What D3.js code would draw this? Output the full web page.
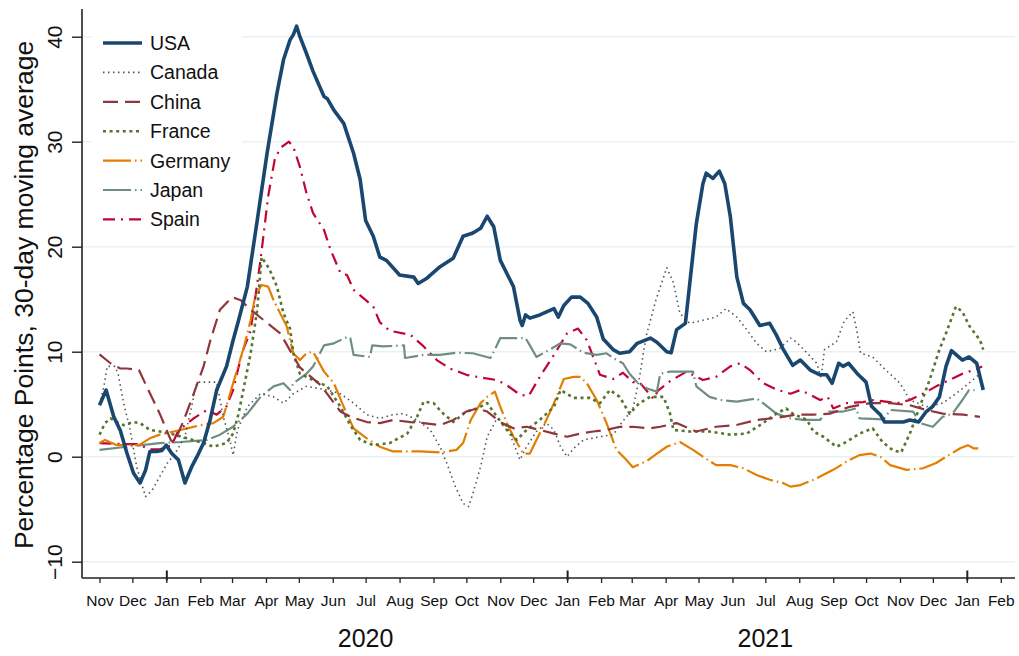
<!DOCTYPE html>
<html>
<head>
<meta charset="utf-8">
<script src="https://cdn.jsdelivr.net/npm/d3@7"></script>
<style>
  body { margin: 0; background: #fff; }
  svg { font-family: "Liberation Sans", Arial, sans-serif; }
</style>
</head>
<body>
<svg id="chart" width="1019" height="656"></svg>
<script>
// 30-day moving average, percentage points
const usa = [
  ['2019-11-01', 4.9], ['2019-11-07', 6.35], ['2019-11-14', 3.8], ['2019-11-20', 2.5], ['2019-11-26', 0.35],
  ['2019-12-02', -1.55], ['2019-12-08', -2.5], ['2019-12-13', -1.3], ['2019-12-17', 0.5], ['2019-12-23', 0.5],
  ['2019-12-28', 0.6], ['2020-01-01', 1.1], ['2020-01-06', 0.3], ['2020-01-12', -0.3], ['2020-01-18', -2.5],
  ['2020-01-24', -1.0], ['2020-01-29', 0], ['2020-02-04', 1.3], ['2020-02-10', 3.5], ['2020-02-16', 6.35],
  ['2020-02-25', 8.6], ['2020-03-02', 11.1], ['2020-03-07', 13], ['2020-03-15', 16.2], ['2020-03-24', 22.5],
  ['2020-04-02', 28.9], ['2020-04-11', 34.6], ['2020-04-17', 37.8], ['2020-04-23', 39.7], ['2020-04-26', 40.2],
  ['2020-04-29', 41.0], ['2020-05-02', 40.0], ['2020-05-08', 38.4], ['2020-05-14', 36.7], ['2020-05-24', 34.3],
  ['2020-05-27', 34.1], ['2020-06-02', 33.0], ['2020-06-11', 31.75], ['2020-06-20', 28.9], ['2020-06-26', 26.4],
  ['2020-07-01', 22.5], ['2020-07-08', 21.0], ['2020-07-14', 19.0], ['2020-07-20', 18.7], ['2020-08-01', 17.3],
  ['2020-08-14', 17.1], ['2020-08-18', 16.5], ['2020-08-26', 17.0], ['2020-09-07', 18.1], ['2020-09-19', 18.9],
  ['2020-09-28', 21.0], ['2020-10-07', 21.3], ['2020-10-14', 21.75], ['2020-10-20', 22.9], ['2020-10-26', 21.9],
  ['2020-11-01', 18.7], ['2020-11-13', 16.2], ['2020-11-19', 13.0], ['2020-11-21', 12.5], ['2020-11-24', 13.5],
  ['2020-11-28', 13.2], ['2020-12-07', 13.5], ['2020-12-20', 14.1], ['2020-12-24', 13.3], ['2020-12-29', 14.4],
  ['2021-01-05', 15.2], ['2021-01-13', 15.2], ['2021-01-20', 14.6], ['2021-01-28', 13.3], ['2021-02-03', 11.2],
  ['2021-02-12', 10.2], ['2021-02-18', 9.85], ['2021-02-27', 10.0], ['2021-03-06', 10.8], ['2021-03-18', 11.3],
  ['2021-03-24', 10.9], ['2021-04-02', 10.0], ['2021-04-06', 9.9], ['2021-04-11', 12.1], ['2021-04-19', 12.7],
  ['2021-04-23', 16.5], ['2021-04-29', 22.2], ['2021-05-05', 26.0], ['2021-05-08', 27.0], ['2021-05-14', 26.5],
  ['2021-05-20', 27.2], ['2021-05-25', 26.0], ['2021-05-30', 22.9], ['2021-06-05', 17.1], ['2021-06-11', 14.6],
  ['2021-06-17', 14.0], ['2021-06-26', 12.5], ['2021-07-05', 12.7], ['2021-07-11', 11.6], ['2021-07-17', 10.3],
  ['2021-07-26', 8.7], ['2021-08-02', 9.2], ['2021-08-11', 8.25], ['2021-08-20', 7.8], ['2021-08-26', 7.8],
  ['2021-08-31', 7.0], ['2021-09-06', 8.9], ['2021-09-10', 8.6], ['2021-09-15', 8.9], ['2021-09-24', 7.8],
  ['2021-10-01', 7.1], ['2021-10-06', 4.8], ['2021-10-14', 4.0], ['2021-10-18', 3.3], ['2021-11-04', 3.3],
  ['2021-11-10', 3.5], ['2021-11-18', 3.3], ['2021-11-25', 4.3], ['2021-12-01', 4.8], ['2021-12-07', 5.7],
  ['2021-12-13', 8.6], ['2021-12-18', 10.1], ['2021-12-28', 9.2], ['2022-01-03', 9.5], ['2022-01-10', 8.9],
  ['2022-01-16', 6.35]
];

const canada = [
  ['2019-11-01', 5.0], ['2019-11-05', 6.7], ['2019-11-08', 8.6], ['2019-11-15', 8.6], ['2019-11-18', 7.9],
  ['2019-11-23', 5.1], ['2019-11-29', 2.55], ['2019-12-05', -1.0], ['2019-12-13', -3.8], ['2019-12-19', -3.2],
  ['2019-12-26', -1.9], ['2020-01-02', -0.6], ['2020-01-09', 0.3], ['2020-01-18', 1.9], ['2020-01-24', 4.75],
  ['2020-01-29', 7.1], ['2020-02-16', 7.1], ['2020-02-22', 3.8], ['2020-02-28', 1.6], ['2020-03-02', 0.15],
  ['2020-03-06', 2.55], ['2020-03-15', 4.75], ['2020-03-27', 6.0], ['2020-04-08', 5.7], ['2020-04-17', 5.1],
  ['2020-04-26', 6.0], ['2020-05-08', 6.7], ['2020-05-27', 6.35], ['2020-06-08', 6.0], ['2020-06-20', 5.1],
  ['2020-07-02', 4.0], ['2020-07-14', 3.65], ['2020-07-26', 4.0], ['2020-08-05', 4.1], ['2020-08-17', 3.5],
  ['2020-08-29', 2.55], ['2020-09-07', 0.95], ['2020-09-13', -0.6], ['2020-09-21', -2.85], ['2020-09-28', -4.45],
  ['2020-10-03', -4.75], ['2020-10-07', -3.5], ['2020-10-14', -0.95], ['2020-10-20', 1.9], ['2020-10-29', 3.65],
  ['2020-11-07', 2.85], ['2020-11-13', 1.3], ['2020-11-19', -0.3], ['2020-11-25', 0.95], ['2020-12-04', 2.4],
  ['2020-12-13', 3.2], ['2020-12-20', 2.55], ['2020-12-26', 0.95], ['2021-01-01', 0], ['2021-01-07', 0.8],
  ['2021-01-16', 1.6], ['2021-01-31', 1.9], ['2021-02-12', 2.1], ['2021-02-21', 3.4], ['2021-03-02', 4.5],
  ['2021-03-08', 7.5], ['2021-03-14', 11.4], ['2021-03-23', 14.9], ['2021-04-02', 18.0], ['2021-04-08', 16.6],
  ['2021-04-14', 13.65], ['2021-04-23', 12.7], ['2021-05-05', 13.0], ['2021-05-17', 13.3], ['2021-05-26', 14.1],
  ['2021-06-05', 13.3], ['2021-06-14', 12.1], ['2021-06-23', 10.8], ['2021-07-02', 10.0], ['2021-07-14', 10.3],
  ['2021-07-24', 11.3], ['2021-07-29', 10.95], ['2021-08-07', 10.0], ['2021-08-17', 8.9], ['2021-08-21', 7.5],
  ['2021-08-24', 10.2], ['2021-09-04', 10.95], ['2021-09-11', 12.9], ['2021-09-19', 13.8], ['2021-09-23', 11.75],
  ['2021-09-26', 9.85], ['2021-10-07', 9.5], ['2021-10-19', 8.25], ['2021-11-01', 7.0], ['2021-11-10', 5.4],
  ['2021-11-25', 4.75], ['2021-12-10', 5.1], ['2021-12-22', 6.0], ['2022-01-03', 7.0], ['2022-01-13', 7.9]
];

const china = [
  ['2019-11-01', 9.75], ['2019-11-11', 8.9], ['2019-11-20', 8.4], ['2019-11-26', 8.4], ['2019-12-07', 8.25],
  ['2019-12-14', 6.7], ['2019-12-26', 4.1], ['2020-01-05', 1.6], ['2020-01-08', 1.3], ['2020-01-17', 3.5],
  ['2020-01-26', 6.0], ['2020-02-04', 8.6], ['2020-02-10', 11.0], ['2020-02-19', 14.0], ['2020-03-01', 15.2],
  ['2020-03-09', 14.9], ['2020-03-18', 14.0], ['2020-03-30', 13.0], ['2020-04-14', 11.75], ['2020-05-02', 8.5],
  ['2020-05-21', 6.8], ['2020-06-08', 4.3], ['2020-06-17', 3.8], ['2020-07-02', 3.3], ['2020-07-14', 3.2],
  ['2020-07-26', 3.5], ['2020-08-11', 3.3], ['2020-08-23', 3.2], ['2020-09-07', 3.0], ['2020-09-19', 3.5],
  ['2020-10-01', 4.3], ['2020-10-11', 4.6], ['2020-10-20', 4.3], ['2020-11-01', 3.3], ['2020-11-13', 2.7],
  ['2020-11-25', 2.85], ['2020-12-07', 2.55], ['2020-12-20', 2.2], ['2021-01-01', 1.9], ['2021-01-13', 2.2],
  ['2021-01-25', 2.4], ['2021-02-06', 2.55], ['2021-02-18', 2.85], ['2021-03-02', 2.85], ['2021-03-18', 2.7],
  ['2021-03-27', 2.85], ['2021-04-11', 3.2], ['2021-04-29', 2.4], ['2021-05-17', 2.85], ['2021-06-04', 3.0],
  ['2021-06-23', 3.5], ['2021-07-11', 3.7], ['2021-07-29', 4.0], ['2021-08-14', 4.0], ['2021-08-29', 4.1],
  ['2021-09-16', 4.75], ['2021-10-05', 5.1], ['2021-10-23', 5.1], ['2021-11-10', 4.9], ['2021-11-25', 4.45],
  ['2021-12-10', 4.1], ['2021-12-29', 4.0], ['2022-01-13', 3.8]
];

const france = [
  ['2019-11-01', 2.1], ['2019-11-06', 3.2], ['2019-11-11', 3.65], ['2019-11-17', 3.3], ['2019-11-23', 3.0],
  ['2019-12-02', 3.3], ['2019-12-08', 3.2], ['2019-12-17', 2.55], ['2019-12-26', 2.4], ['2020-01-05', 2.2],
  ['2020-01-20', 1.75], ['2020-02-04', 1.3], ['2020-02-13', 0.95], ['2020-02-25', 1.3], ['2020-03-02', 2.2],
  ['2020-03-07', 4.1], ['2020-03-12', 6.7], ['2020-03-18', 9.85], ['2020-03-24', 14.0], ['2020-03-28', 19.0],
  ['2020-04-04', 17.9], ['2020-04-11', 16.2], ['2020-04-17', 13.65], ['2020-04-23', 12.2], ['2020-04-26', 9.85],
  ['2020-05-02', 7.9], ['2020-05-14', 7.3], ['2020-05-27', 6.7], ['2020-06-08', 4.75], ['2020-06-17', 3.0],
  ['2020-06-26', 1.6], ['2020-07-08', 1.1], ['2020-07-23', 1.3], ['2020-08-08', 2.2], ['2020-08-17', 3.8],
  ['2020-08-23', 5.25], ['2020-09-01', 5.1], ['2020-09-10', 4.1], ['2020-09-19', 3.3], ['2020-10-01', 4.3],
  ['2020-10-11', 4.6], ['2020-10-20', 5.1], ['2020-10-29', 3.8], ['2020-11-07', 2.55], ['2020-11-16', 1.6],
  ['2020-11-25', 2.55], ['2020-12-07', 3.5], ['2020-12-20', 4.75], ['2020-12-26', 6.35], ['2021-01-07', 5.6],
  ['2021-01-22', 5.6], ['2021-01-31', 5.1], ['2021-02-09', 6.35], ['2021-02-18', 5.7], ['2021-02-27', 4.1],
  ['2021-03-08', 5.1], ['2021-03-18', 5.7], ['2021-03-30', 5.7], ['2021-04-05', 4.1], ['2021-04-08', 2.55],
  ['2021-04-23', 2.4], ['2021-05-11', 2.4], ['2021-05-30', 2.1], ['2021-06-14', 2.2], ['2021-06-29', 3.2],
  ['2021-07-11', 4.1], ['2021-07-20', 4.6], ['2021-07-26', 4.1], ['2021-08-08', 3.5], ['2021-08-14', 2.4],
  ['2021-08-23', 1.9], ['2021-09-04', 0.95], ['2021-09-13', 1.4], ['2021-09-25', 2.2], ['2021-10-07', 2.7],
  ['2021-10-16', 1.4], ['2021-10-25', 0.65], ['2021-11-02', 0.4], ['2021-11-10', 2.2], ['2021-11-19', 4.75],
  ['2021-11-28', 7.3], ['2021-12-07', 10.2], ['2021-12-13', 11.75], ['2021-12-22', 14.3], ['2021-12-28', 13.8],
  ['2022-01-03', 12.5], ['2022-01-13', 11.1], ['2022-01-16', 10.2]
];

const germany = [
  ['2019-11-01', 1.3], ['2019-11-06', 1.6], ['2019-11-17', 1.1], ['2019-12-07', 1.1], ['2019-12-17', 1.75],
  ['2019-12-26', 2.1], ['2020-01-08', 2.4], ['2020-01-20', 2.7], ['2020-02-01', 3.0], ['2020-02-13', 3.2],
  ['2020-02-22', 3.8], ['2020-03-02', 7.0], ['2020-03-12', 10.5], ['2020-03-18', 13.0], ['2020-03-22', 15.2],
  ['2020-03-28', 16.35], ['2020-04-03', 16.2], ['2020-04-08', 14.9], ['2020-04-14', 13.65], ['2020-04-20', 12.4],
  ['2020-04-23', 11.1], ['2020-04-26', 9.85], ['2020-05-02', 9.2], ['2020-05-08', 9.85], ['2020-05-14', 10.0],
  ['2020-05-24', 8.1], ['2020-06-02', 7.0], ['2020-06-11', 4.75], ['2020-06-20', 2.7], ['2020-07-02', 1.75],
  ['2020-07-14', 0.95], ['2020-07-26', 0.5], ['2020-08-20', 0.5], ['2020-09-07', 0.4], ['2020-09-22', 0.65],
  ['2020-09-28', 1.3], ['2020-10-05', 3.5], ['2020-10-14', 5.1], ['2020-10-20', 5.7], ['2020-10-27', 6.2],
  ['2020-11-01', 4.75], ['2020-11-07', 3.2], ['2020-11-13', 1.9], ['2020-11-22', 0.3], ['2020-11-28', 0.3],
  ['2020-12-04', 1.6], ['2020-12-13', 3.5], ['2020-12-20', 5.1], ['2020-12-29', 7.4], ['2021-01-07', 7.6],
  ['2021-01-13', 7.6], ['2021-01-19', 7.0], ['2021-01-28', 5.4], ['2021-02-06', 3.2], ['2021-02-15', 0.65],
  ['2021-02-24', -0.3], ['2021-03-02', -1.0], ['2021-03-15', -0.4], ['2021-03-24', 0.3], ['2021-04-02', 0.95],
  ['2021-04-14', 1.4], ['2021-04-26', 0.65], ['2021-05-05', 0], ['2021-05-17', -0.8], ['2021-05-30', -0.8],
  ['2021-06-11', -1.1], ['2021-06-23', -1.75], ['2021-07-05', -2.2], ['2021-07-17', -2.5], ['2021-07-24', -2.85],
  ['2021-08-02', -2.7], ['2021-08-14', -2.2], ['2021-09-01', -1.25], ['2021-09-16', -0.3], ['2021-09-25', 0.15],
  ['2021-10-05', 0.3], ['2021-10-14', 0], ['2021-10-23', -0.8], ['2021-11-07', -1.25], ['2021-11-22', -1.1],
  ['2021-12-04', -0.6], ['2021-12-13', 0], ['2021-12-26', 0.8], ['2022-01-02', 1.1], ['2022-01-07', 0.8],
  ['2022-01-14', 0.8]
];

const japan = [
  ['2019-11-01', 0.65], ['2019-11-26', 0.95], ['2019-12-26', 1.3], ['2020-01-14', 1.4], ['2020-02-07', 1.6],
  ['2020-02-19', 2.1], ['2020-03-02', 2.85], ['2020-03-15', 4.1], ['2020-03-27', 5.7], ['2020-04-08', 6.7],
  ['2020-04-17', 7.0], ['2020-04-23', 6.35], ['2020-04-26', 7.0], ['2020-05-08', 7.9], ['2020-05-14', 8.6],
  ['2020-05-24', 10.6], ['2020-06-02', 10.8], ['2020-06-14', 11.4], ['2020-06-17', 11.3], ['2020-06-20', 9.7],
  ['2020-07-05', 9.5], ['2020-07-07', 10.6], ['2020-07-17', 10.5], ['2020-08-05', 10.6], ['2020-08-06', 9.4],
  ['2020-08-23', 9.7], ['2020-09-07', 9.7], ['2020-09-22', 9.9], ['2020-10-07', 9.85], ['2020-10-23', 9.4],
  ['2020-10-27', 10.2], ['2020-11-01', 11.3], ['2020-11-24', 11.3], ['2020-11-28', 10.6], ['2020-12-04', 9.5],
  ['2020-12-16', 10.2], ['2020-12-26', 10.8], ['2021-01-04', 10.7], ['2021-01-16', 9.9], ['2021-01-28', 9.7],
  ['2021-02-06', 9.85], ['2021-02-12', 9.4], ['2021-02-21', 8.9], ['2021-02-27', 7.9], ['2021-03-06', 7.1],
  ['2021-03-15', 6.5], ['2021-03-24', 6.2], ['2021-03-27', 7.9], ['2021-04-05', 8.1], ['2021-04-26', 8.1],
  ['2021-04-29', 6.7], ['2021-05-11', 5.7], ['2021-05-21', 5.4], ['2021-06-05', 5.25], ['2021-06-23', 5.55],
  ['2021-06-29', 5.1], ['2021-07-11', 4.1], ['2021-07-24', 3.65], ['2021-08-05', 3.5], ['2021-08-20', 3.5],
  ['2021-08-26', 4.3], ['2021-09-10', 4.3], ['2021-09-22', 4.6], ['2021-09-25', 3.65], ['2021-10-17', 3.55],
  ['2021-10-23', 4.45], ['2021-11-13', 4.3], ['2021-11-19', 3.2], ['2021-12-01', 2.85], ['2021-12-10', 3.8],
  ['2021-12-19', 4.1], ['2021-12-28', 5.4], ['2022-01-03', 6.35], ['2022-01-08', 6.35]
];

const spain = [
  ['2019-11-01', 1.3], ['2019-11-25', 1.2], ['2019-12-05', 1.2], ['2019-12-17', 0.7], ['2019-12-26', 0.7],
  ['2020-01-06', 1.1], ['2020-01-12', 2.5], ['2020-01-26', 3.65], ['2020-02-07', 4.45], ['2020-02-16', 4.0],
  ['2020-02-25', 4.8], ['2020-03-02', 6.35], ['2020-03-10', 9.85], ['2020-03-18', 12.0], ['2020-03-27', 18.7],
  ['2020-04-03', 24.8], ['2020-04-09', 28.3], ['2020-04-14', 29.4], ['2020-04-22', 30.0], ['2020-04-26', 29.5],
  ['2020-05-02', 27.6], ['2020-05-08', 25.1], ['2020-05-14', 23.2], ['2020-05-24', 21.6], ['2020-05-30', 19.7],
  ['2020-06-08', 17.5], ['2020-06-14', 17.3], ['2020-06-20', 15.9], ['2020-06-29', 15.1], ['2020-07-08', 14.3],
  ['2020-07-14', 12.8], ['2020-07-23', 12.0], ['2020-08-11', 11.6], ['2020-08-23', 10.5], ['2020-09-04', 9.2],
  ['2020-09-16', 8.4], ['2020-10-01', 7.8], ['2020-10-11', 7.6], ['2020-10-29', 7.3], ['2020-11-07', 6.8],
  ['2020-11-19', 5.9], ['2020-11-27', 5.8], ['2020-12-07', 7.6], ['2020-12-20', 9.7], ['2021-01-01', 11.75],
  ['2021-01-11', 12.2], ['2021-01-19', 11.1], ['2021-01-31', 7.8], ['2021-02-12', 7.4], ['2021-02-21', 8.0],
  ['2021-03-02', 7.1], ['2021-03-08', 7.1], ['2021-03-21', 5.5], ['2021-03-25', 6.3], ['2021-04-05', 7.2],
  ['2021-04-20', 8.1], ['2021-05-05', 7.3], ['2021-05-17', 7.6], ['2021-05-30', 8.6], ['2021-06-08', 8.9],
  ['2021-06-17', 8.25], ['2021-06-29', 7.0], ['2021-07-11', 6.4], ['2021-07-24', 6.0], ['2021-08-02', 6.35],
  ['2021-08-11', 5.9], ['2021-08-20', 5.4], ['2021-08-27', 5.7], ['2021-09-01', 4.6], ['2021-09-13', 5.1],
  ['2021-09-28', 5.2], ['2021-10-08', 5.4], ['2021-10-29', 5.1], ['2021-11-10', 5.4], ['2021-11-22', 6.0],
  ['2021-12-04', 6.7], ['2021-12-16', 7.3], ['2021-12-28', 7.9], ['2022-01-07', 8.25], ['2022-01-15', 8.6]
];

const countries = ['USA', 'Canada', 'China', 'France', 'Germany', 'Japan', 'Spain'];
const seriesData = [usa, canada, china, france, germany, japan, spain];
const yTicks = [-10, 0, 10, 20, 30, 40];
const yearLabels = ['2020', '2021'];

const styles = {
  USA: { color: '#1a476f', width: 3.6, dash: null },
  Canada: { color: '#555555', width: 1.6, dash: '1.5,3.5' },
  China: { color: '#90353b', width: 2.2, dash: '15,7' },
  France: { color: '#55752f', width: 2.6, dash: '3,3.6' },
  Germany: { color: '#e37e00', width: 2.2, dash: '28,4,1.5,4' },
  Japan: { color: '#6e8e84', width: 2.2, dash: '28,4,1.5,4' },
  Spain: { color: '#c10534', width: 2.2, dash: '12,6,2,6' }
};

const parse = d3.timeParse('%Y-%m-%d');
const svg = d3.select('#chart');

svg.append('rect').attr('width', 1019).attr('height', 656).attr('fill', '#fff');

const plotLeft = 82, plotRight = 1015, plotTop = 9, plotBottom = 578;

const x = d3.scaleTime()
  .domain([parse('2019-10-16'), parse('2022-02-14')])
  .range([plotLeft, plotRight]);

const y = d3.scaleLinear()
  .domain([-10, 40])
  .range([561.7, 36.7]);

// grid
svg.append('g')
  .selectAll('line')
  .data(yTicks)
  .enter()
  .append('line')
  .attr('x1', plotLeft)
  .attr('x2', plotRight)
  .attr('y1', (d) => y(d))
  .attr('y2', (d) => y(d))
  .attr('stroke', '#e9f1f2')
  .attr('stroke-width', 1.6);

// lines
const line = d3.line()
  .x((d) => x(parse(d[0])))
  .y((d) => y(d[1]));

const order = [6, 5, 4, 3, 2, 1, 0];
order.forEach((i) => {
  const s = styles[countries[i]];
  svg.append('path')
    .datum(seriesData[i])
    .attr('d', line)
    .attr('fill', 'none')
    .attr('stroke', s.color)
    .attr('stroke-width', s.width)
    .attr('stroke-linejoin', 'round')
    .attr('stroke-dasharray', s.dash);
});

// y axis
const yAxis = d3.axisLeft(y).tickValues(yTicks).tickSize(10).tickPadding(0);
const yg = svg.append('g')
  .attr('transform', `translate(${plotLeft},0)`)
  .call(yAxis);
yg.select('.domain').remove();
yg.selectAll('.tick line').attr('stroke', '#222').attr('stroke-width', 1.4);
yg.selectAll('.tick text')
  .attr('transform', 'rotate(-90)')
  .attr('x', 0)
  .attr('y', -20)
  .attr('dy', 0)
  .attr('text-anchor', 'middle')
  .attr('fill', '#111')
  .style('font-size', '21px')
  .style('font-family', '"Liberation Sans", Arial, sans-serif');

svg.append('line')
  .attr('x1', plotLeft).attr('x2', plotLeft)
  .attr('y1', plotTop).attr('y2', plotBottom)
  .attr('stroke', '#222').attr('stroke-width', 1.6);

// x axis: months
const months = d3.timeMonth.range(parse('2019-11-01'), parse('2022-02-02'));
const monthAxis = d3.axisBottom(x)
  .tickValues(months)
  .tickFormat(d3.timeFormat('%b'))
  .tickSize(5)
  .tickPadding(12);
const mg = svg.append('g')
  .attr('transform', `translate(0,${plotBottom})`)
  .call(monthAxis);
mg.select('.domain').remove();
mg.selectAll('.tick line').attr('stroke', '#222').attr('stroke-width', 1.3);
mg.selectAll('.tick text')
  .attr('fill', '#111')
  .style('font-size', '15.5px')
  .style('font-family', '"Liberation Sans", Arial, sans-serif');

// x axis: years (ticks at Jan 1, labels mid-year)
const jans = d3.timeYear.range(parse('2020-01-01'), parse('2022-01-02'));
const yearAxis = d3.axisBottom(x)
  .tickValues(jans)
  .tickFormat('')
  .tickSizeInner(-10)
  .tickSizeOuter(0);
const yg2 = svg.append('g')
  .attr('transform', `translate(0,${plotBottom + 2.5})`)
  .call(yearAxis);
yg2.select('.domain').remove();
yg2.selectAll('.tick line').attr('stroke', '#222').attr('stroke-width', 2);

svg.append('g')
  .selectAll('text')
  .data(yearLabels)
  .enter()
  .append('text')
  .attr('x', (d) => x(parse(d + '-07-01')))
  .attr('y', 647)
  .attr('text-anchor', 'middle')
  .attr('fill', '#111')
  .style('font-size', '25px')
  .text((d) => d);

svg.append('line')
  .attr('x1', plotLeft).attr('x2', plotRight)
  .attr('y1', plotBottom).attr('y2', plotBottom)
  .attr('stroke', '#222').attr('stroke-width', 1.6);

// y title
svg.append('text')
  .attr('transform', 'translate(32.5,295) rotate(-90)')
  .attr('text-anchor', 'middle')
  .attr('fill', '#111')
  .style('font-size', '26.5px')
  .text('Percentage Points, 30-day moving average');

// legend
const legend = svg.append('g');
legend.append('rect')
  .attr('x', 92).attr('y', 24)
  .attr('width', 150).attr('height', 212)
  .attr('fill', '#fff');

const rowY = (i) => 43 + i * 29.4;
countries.forEach((c, i) => {
  const s = styles[c];
  legend.append('line')
    .attr('x1', 103).attr('x2', 142)
    .attr('y1', rowY(i)).attr('y2', rowY(i))
    .attr('stroke', s.color)
    .attr('stroke-width', s.width)
    .attr('stroke-dasharray', s.dash);
  legend.append('text')
    .attr('x', 150)
    .attr('y', rowY(i) + 7)
    .attr('fill', '#111')
    .style('font-size', '19.5px')
    .text(c);
});
</script>
</body>
</html>
